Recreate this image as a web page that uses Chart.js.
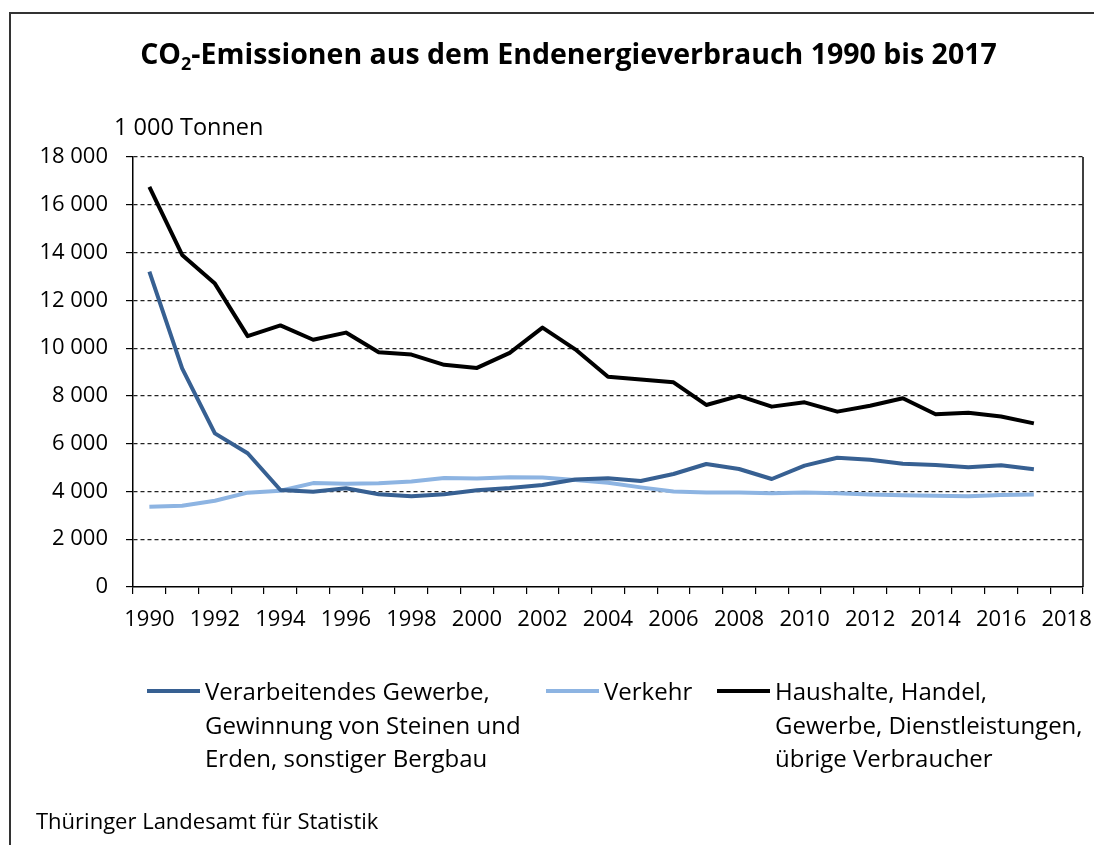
<!DOCTYPE html>
<html lang="de">
<head>
<meta charset="utf-8">
<script src="https://cdn.jsdelivr.net/npm/chart.js@4"></script>
<style>
  body { margin: 0; background: #fff; }
  #box { position: relative; width: 1094px; height: 845px; overflow: hidden; font-family: "Open Sans", sans-serif; color: #000; }
  #rahmen { position: absolute; left: 9px; top: 12px; width: 1200px; height: 900px; border-left: 2px solid #333; border-top: 2px solid #333; }
  #titel { position: absolute; left: 0; width: 1137px; top: 33px; text-align: center; font-weight: bold; font-size: 28.5px; line-height: 40px; }
  #titel sub { font-size: 18px; vertical-align: -6px; line-height: 0; }
  #einheit { position: absolute; left: 114px; top: 110px; font-size: 23.5px; line-height: 32px; }
  #quelle { position: absolute; left: 36px; top: 805px; font-size: 22px; line-height: 30px; }
  #myChart { position: absolute; left: 0; top: 0; }
  .eintrag { position: absolute; top: 674px; font-size: 24px; line-height: 33.5px; }
  .eintrag .strich { position: absolute; left: 0; top: 15px; width: 53px; height: 4px; }
  .eintrag .text { position: absolute; left: 58px; white-space: nowrap; }
</style>
</head>
<body>
<div id="box">
  <div id="rahmen"></div>
  <canvas id="myChart" width="1094" height="845"></canvas>
  <div id="titel">CO<sub>2</sub>-Emissionen aus dem Endenergieverbrauch 1990 bis 2017</div>
  <div id="einheit">1 000 Tonnen</div>
  <div id="legende"></div>
  <div id="quelle">Thüringer Landesamt für Statistik</div>
</div>
<script>
// Jahre (die Kategorie 2018 bleibt leer)
const jahre = ["1990","1991","1992","1993","1994","1995","1996","1997","1998","1999",
  "2000","2001","2002","2003","2004","2005","2006","2007","2008","2009",
  "2010","2011","2012","2013","2014","2015","2016","2017","2018"];

// Werte in 1 000 Tonnen
const verarbeitendesGewerbe = [13200, 9150, 6430, 5600, 4060, 3990, 4130, 3880, 3800, 3880,
  4050, 4140, 4270, 4500, 4550, 4440, 4730, 5150, 4940, 4520,
  5080, 5410, 5330, 5160, 5110, 5010, 5100, 4930];
const verkehr = [3360, 3400, 3610, 3950, 4030, 4350, 4320, 4340, 4420, 4560,
  4540, 4590, 4580, 4480, 4360, 4170, 4000, 3960, 3960, 3920,
  3960, 3920, 3870, 3840, 3820, 3800, 3850, 3870];
const haushalte = [16750, 13900, 12700, 10500, 10950, 10350, 10650, 9830, 9730, 9300,
  9170, 9800, 10860, 9950, 8800, 8690, 8570, 7620, 8000, 7550,
  7730, 7340, 7590, 7900, 7230, 7290, 7140, 6850];

const namen = [
  ["Verarbeitendes Gewerbe,", "Gewinnung von Steinen und", "Erden, sonstiger Bergbau"],
  ["Verkehr"],
  ["Haushalte, Handel,", "Gewerbe, Dienstleistungen,", "übrige Verbraucher"]
];

const yTicks = [0, 2000, 4000, 6000, 8000, 10000, 12000, 14000, 16000, 18000];

function tausender(v){
  return String(v).replace(/\B(?=(\d{3})+(?!\d))/g, " ");
}

// rechter Rand der Zeichenfläche
const randPlugin = {
  id: "rand",
  afterDraw(chart){
    const a = chart.chartArea;
    const ctx = chart.ctx;
    ctx.save();
    ctx.strokeStyle = "#000";
    ctx.lineWidth = 1.5;
    ctx.beginPath();
    ctx.moveTo(a.right, a.top);
    ctx.lineTo(a.right, a.bottom);
    ctx.stroke();
    ctx.restore();
  }
};

const schrift = { family: "'Open Sans', sans-serif", size: 22 };

const desenho = new Chart("myChart", {
  type: "line",
  data: {
    labels: jahre,
    datasets: [
      { label: namen[0].join(" "), data: verarbeitendesGewerbe, borderColor: "#376092", borderWidth: 4 },
      { label: namen[1].join(" "), data: verkehr, borderColor: "#8db4e2", borderWidth: 4 },
      { label: namen[2].join(" "), data: haushalte, borderColor: "#000000", borderWidth: 4 }
    ]
  },
  options: {
    responsive: false,
    animation: false,
    layout: { padding: { top: 157, right: 11, bottom: 0, left: 0 } },
    elements: {
      point: { radius: 0 },
      line: { tension: 0, fill: false, borderJoinStyle: "round" }
    },
    plugins: {
      legend: { display: false },
      title: { display: false },
      tooltip: { enabled: false }
    },
    scales: {
      x: {
        type: "category",
        offset: true,
        afterFit(scale){
          scale.height = 258;
          // kein Extra-Platz für die Beschriftung 2018
          scale.paddingLeft = 0;
          scale.paddingRight = 0;
        },
        grid: { offset: true, drawOnChartArea: false, tickLength: 7, color: "#000", lineWidth: 1.2 },
        border: { display: true, color: "#000", width: 1.5 },
        ticks: {
          autoSkip: false,
          maxRotation: 0,
          padding: 13,
          color: "#000",
          font: schrift,
          callback(v, i){ return i % 2 === 0 ? jahre[i] : ""; }
        }
      },
      y: {
        min: 0,
        max: 18000,
        afterFit(scale){ scale.width = 133; },
        afterBuildTicks(scale){ scale.ticks = yTicks.map(v => ({ value: v })); },
        grid: {
          color: ctx => ctx.tick && ctx.tick.value === 0 ? "rgba(0,0,0,0)" : "#222",
          tickColor: "#000",
          tickLength: 7,
          lineWidth: 1.2
        },
        border: { display: true, color: "#000", width: 1.5, dash: [4, 3] },
        ticks: {
          padding: 18,
          color: "#000",
          font: schrift,
          callback(v){ return tausender(v); }
        }
      }
    }
  },
  plugins: [randPlugin]
});

// Legende als HTML, aus den Datensätzen gebaut
const legendeX = [147, 546, 717];
const legende = document.getElementById("legende");
desenho.data.datasets.forEach((ds, i) => {
  const el = document.createElement("div");
  el.className = "eintrag";
  el.style.left = legendeX[i] + "px";
  const strich = document.createElement("div");
  strich.className = "strich";
  strich.style.background = ds.borderColor;
  const text = document.createElement("div");
  text.className = "text";
  text.innerHTML = namen[i].join("<br>");
  el.appendChild(strich);
  el.appendChild(text);
  legende.appendChild(el);
});
</script>
</body>
</html>
